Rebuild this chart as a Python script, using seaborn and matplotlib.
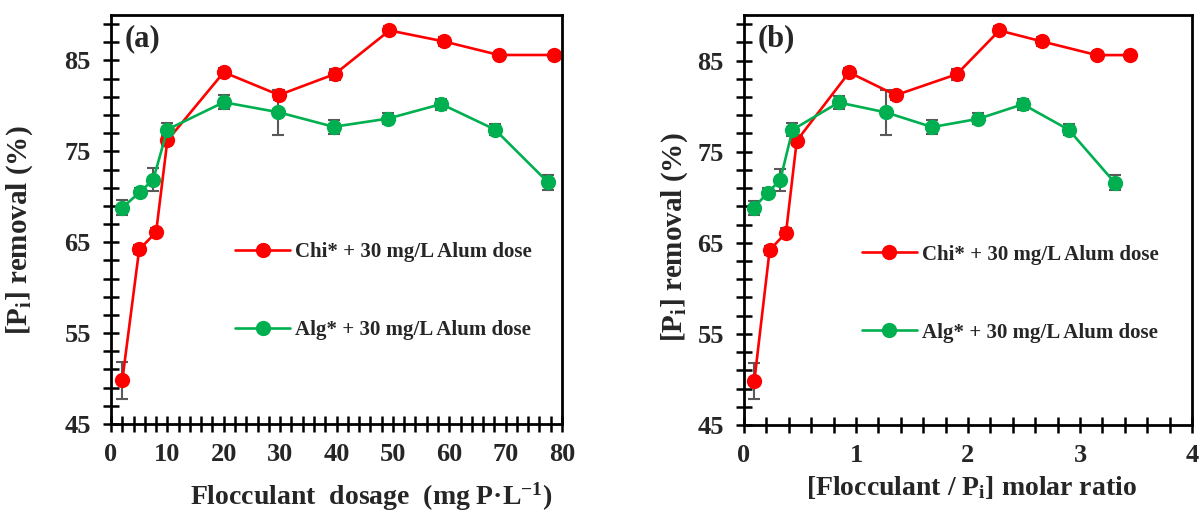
import matplotlib
matplotlib.use("Agg")
import matplotlib.pyplot as plt
import seaborn as sns
import numpy as np
from matplotlib.ticker import MultipleLocator, FixedLocator

# ---------------- data ----------------
chi_dose = [2, 5, 8, 10, 20, 29.8, 39.7, 49.4, 59.0, 68.8, 78.5]
alg_dose = [2, 5.1, 7.5, 10, 20, 29.7, 39.5, 49.1, 58.6, 68.1, 77.5]
chi_ratio = [0.092, 0.229, 0.375, 0.471, 0.939, 1.355, 1.90, 2.28, 2.66, 3.15, 3.45]
alg_ratio = [0.085, 0.212, 0.324, 0.433, 0.846, 1.27, 1.68, 2.09, 2.49, 2.90, 3.31]
chi_removal = [49.8, 64.2, 66.1, 76.2, 83.7, 81.2, 83.5, 88.3, 87.1, 85.6, 85.6]
alg_removal = [68.8, 70.5, 71.9, 77.4, 80.4, 79.3, 77.7, 78.6, 80.2, 77.4, 71.6]
chi_err = [2.0, 0.5, 0.5, 0.5, 0.5, 0.5, 0.6, 0.5, 0.5, 0.3, 0.3]
alg_err = [0.8, 0.5, 1.25, 0.7, 0.75, 2.5, 0.75, 0.6, 0.6, 0.6, 0.85]

chi_label = "Chi* + 30 mg/L Alum dose"
alg_label = "Alg* + 30 mg/L Alum dose"
ylabel = r"[P$_{\mathrm{i}}$] removal (%)"
xlabel_a = "Flocculant  dosage  (mg P\u00b7L$^{\\mathrm{-1}}$)"
xlabel_b = r"[Flocculant / P$_{\mathrm{i}}$] molar ratio"
y_major = [45, 55, 65, 75, 85]

RED = "#FF0000"
GREEN = "#00B050"
ERRC = "#595959"

sns.set_theme(style="ticks")
plt.rcParams["font.family"] = ["Liberation Serif", "DejaVu Serif"]
plt.rcParams["font.weight"] = "bold"
plt.rcParams["mathtext.fontset"] = "custom"
plt.rcParams["mathtext.rm"] = "Liberation Serif:bold"
plt.rcParams["mathtext.it"] = "Liberation Serif:italic:bold"
plt.rcParams["mathtext.bf"] = "Liberation Serif:bold"
plt.rcParams["axes.unicode_minus"] = True

fig = plt.figure(figsize=(12.01, 5.12), dpi=100)
ax1 = fig.add_axes([111 / 1201, 88 / 512, 451 / 1201, 409 / 512])
ax2 = fig.add_axes([744 / 1201, 87 / 512, 448 / 1201, 410 / 512])


def draw(ax, xc, xa, xlim, xmajor, xminor, xlabel, xlab_pos, ylab_pos, leg_pos, tag):
    ax.errorbar(xc, chi_removal, yerr=chi_err, fmt="none", ecolor=ERRC,
                elinewidth=1.5, capsize=4, capthick=1.5, zorder=1)
    ax.errorbar(xa, alg_removal, yerr=alg_err, fmt="none", ecolor=ERRC,
                elinewidth=1.5, capsize=4, capthick=1.5, zorder=1)
    sns.lineplot(x=xc, y=chi_removal, ax=ax, color=RED, marker="o",
                 markersize=11, markeredgewidth=0, linewidth=1.9,
                 sort=False, errorbar=None, label=chi_label, zorder=2)
    sns.lineplot(x=xa, y=alg_removal, ax=ax, color=GREEN, marker="o",
                 markersize=11, markeredgewidth=0, linewidth=1.9,
                 sort=False, errorbar=None, label=alg_label, zorder=3)
    ax.set_xlim(*xlim)
    ax.set_ylim(45, 90)
    ax.xaxis.set_major_locator(MultipleLocator(xmajor))
    ax.xaxis.set_minor_locator(MultipleLocator(xminor))
    ax.yaxis.set_major_locator(FixedLocator(y_major))
    ax.yaxis.set_minor_locator(MultipleLocator(2, offset=1))
    ax.tick_params(axis="both", which="both", direction="inout", length=11,
                   width=1.8, color="black")
    ax.tick_params(axis="both", which="major", labelsize=19)
    ax.tick_params(axis="x", which="major", pad=8)
    ax.tick_params(axis="y", which="major", pad=9)
    for lab in ax.get_xticklabels() + ax.get_yticklabels():
        lab.set_fontweight("bold")
    for s in ax.spines.values():
        s.set_linewidth(2.0)
        s.set_color("black")
    ax.set_xlabel(xlabel, fontsize=20, fontweight="bold")
    ax.set_ylabel(ylabel, fontsize=21, fontweight="bold")
    ax.xaxis.set_label_coords(*xlab_pos)
    ax.yaxis.set_label_coords(*ylab_pos)
    ax.grid(False)
    ax.legend(loc="upper left", bbox_to_anchor=leg_pos, frameon=False,
              labelspacing=2.78, handlelength=2.64, handletextpad=0.25,
              borderpad=0, borderaxespad=0,
              prop={"family": "Liberation Serif", "weight": "bold", "size": 15})
    ax.text(0.03, 0.978, tag, transform=ax.transAxes, ha="left", va="top",
            fontsize=22, fontweight="bold")


draw(ax1, chi_dose, alg_dose, (0, 80), 10, 2, xlabel_a,
     (0.576, -0.137), (-0.169, 0.474), (0.275, 0.444), "(a)")
draw(ax2, chi_ratio, alg_ratio, (0, 4), 1, 0.2, xlabel_b,
     (0.507, -0.12), (-0.121, 0.459), (0.263, 0.44), "(b)")

fig.savefig("out.png", dpi=100)
